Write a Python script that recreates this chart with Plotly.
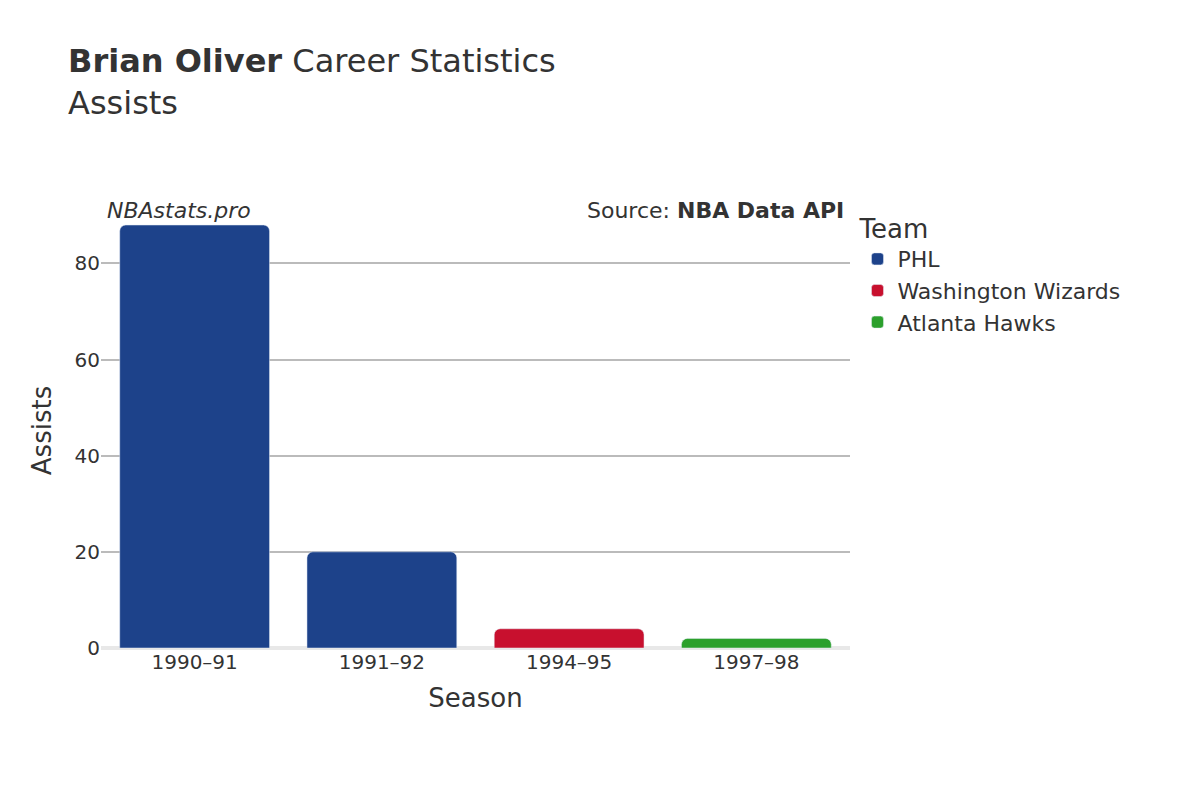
import plotly.graph_objects as go

seasons = ["1990–91", "1991–92", "1994–95", "1997–98"]
teams = ["PHL", "PHL", "Washington Wizards", "Atlanta Hawks"]
assists = [88, 20, 4, 2]
team_order = ["PHL", "Washington Wizards", "Atlanta Hawks"]
colors = {"PHL": "#1d428a", "Washington Wizards": "#c8102e", "Atlanta Hawks": "#2ca02c"}

fig = go.Figure()
for t in team_order:
    xs = [s for s, tm in zip(seasons, teams) if tm == t]
    ys = [a for a, tm in zip(assists, teams) if tm == t]
    fig.add_trace(go.Bar(x=xs, y=ys, name=t, marker_color=colors[t]))

fig.update_layout(
    width=1200, height=800,
    font=dict(family="DejaVu Sans", size=20, color="#333"),
    plot_bgcolor="white", paper_bgcolor="white",
    barcornerradius=6, bargap=0.2,
    margin=dict(l=93, r=358, t=205, b=160),
    title=dict(text="<b>Brian Oliver</b> Career Statistics<br>Assists",
               x=0.05, xanchor="left", y=0.92, font=dict(size=32)),
    legend=dict(title=dict(text="Team", font=dict(size=26)), x=1.01, y=1.02,
                font=dict(size=22)),
    xaxis=dict(title=dict(text="Season", font=dict(size=26)),
               categoryorder="array", categoryarray=seasons),
    yaxis=dict(title=dict(text="Assists", font=dict(size=26)), range=[0, 90.5],
               gridcolor="#bbb", gridwidth=1.5, zeroline=True,
               zerolinecolor="#e8e8e8", zerolinewidth=4, tickvals=[0, 20, 40, 60, 80]),
    annotations=[
        dict(text="<i>NBAstats.pro</i>", xref="paper", yref="paper", x=0.005, y=1.04,
             xanchor="left", showarrow=False, font=dict(size=22)),
        dict(text="Source: <b>NBA Data API</b>", xref="paper", yref="paper", x=0.995, y=1.04,
             xanchor="right", showarrow=False, font=dict(size=22)),
    ],
)
fig.write_html("out.html")
